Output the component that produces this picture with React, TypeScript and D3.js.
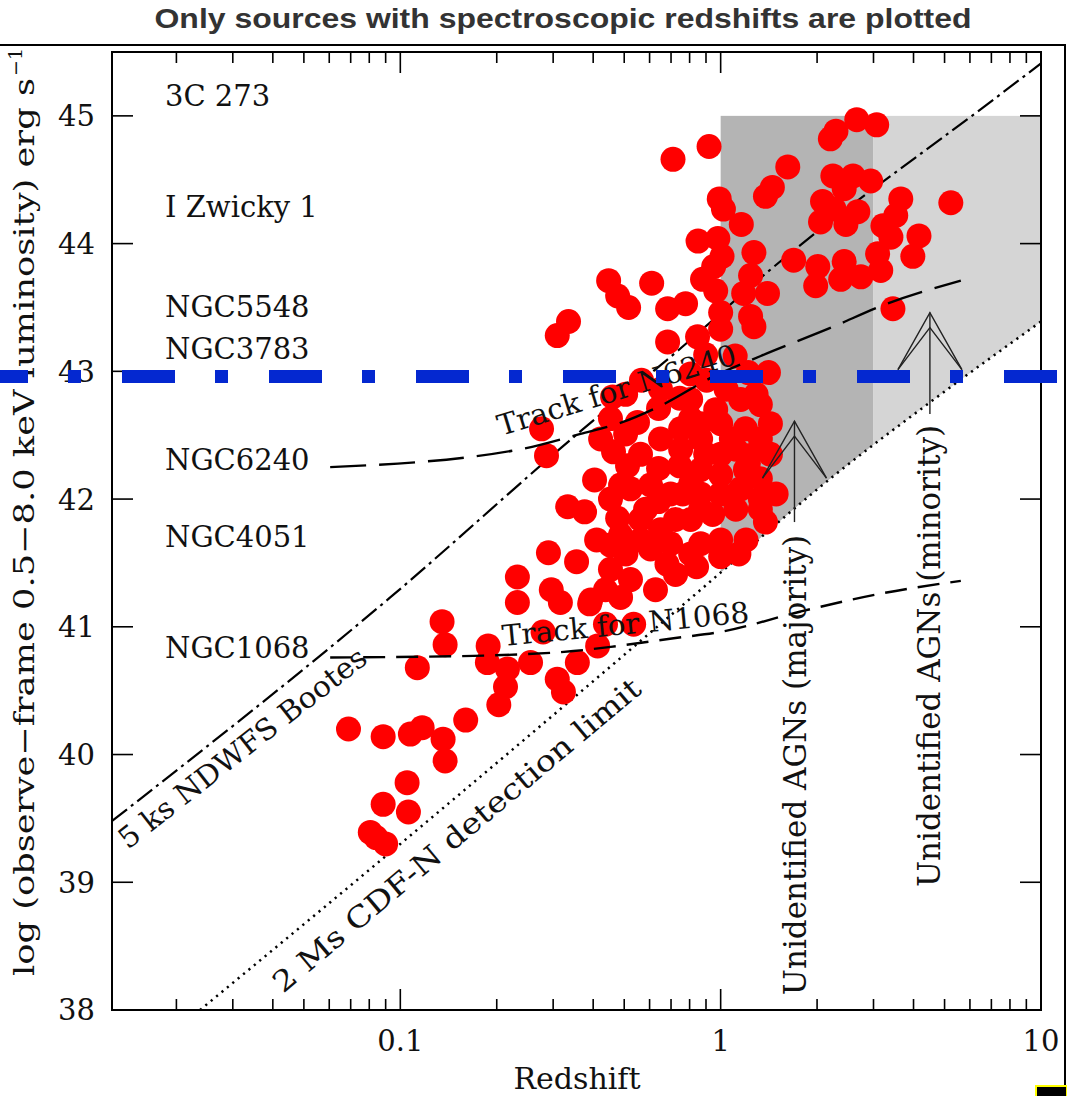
import React from 'react';
import * as d3 from 'd3';

const TITLE = 'Only sources with spectroscopic redshifts are plotted';
const X_TITLE = 'Redshift';
const Y_TITLE = 'log (observe\u2212frame 0.5\u22128.0 keV luminosity) erg s';
const Y_TITLE_SUP = '\u22121';

const xMajorTicks = [0.1, 1, 10];
const xTickLabels = ['0.1', '1', '10'];
const yTicks = [38, 39, 40, 41, 42, 43, 44, 45];

// Local AGN reference labels (log L)
const localNames = ['3C 273', 'I Zwicky 1', 'NGC5548', 'NGC3783', 'NGC6240', 'NGC4051', 'NGC1068'];
const localL = [45.16, 44.29, 43.51, 43.18, 42.31, 41.71, 40.84];

// Sources: redshift / log Lx
const brightZ = [0.71, 0.92, 2.66, 3.07, 2.29, 2.2, 1.62, 1.45, 1.38, 2.24, 2.59, 2.94, 2.43, 0.99, 1.02, 1.16, 2.08, 2.26, 2.68, 2.05, 2.46, 3.65, 3.52, 3.21, 3.4, 5.23, 4.16, 3.98, 0.85, 0.98, 1.01, 1.27, 1.69, 2.01, 2.43, 3.09, 3.16, 2.74, 1.98, 2.37];
const brightL = [44.66, 44.76, 44.97, 44.93, 44.88, 44.82, 44.6, 44.44, 44.37, 44.53, 44.53, 44.49, 44.43, 44.35, 44.27, 44.15, 44.33, 44.27, 44.25, 44.17, 44.15, 44.35, 44.22, 44.14, 44.05, 44.32, 44.06, 43.9, 44.02, 44.04, 43.9, 43.93, 43.87, 43.82, 43.86, 43.92, 43.79, 43.74, 43.67, 43.72];

const midZ = [0.447, 0.477, 0.516, 0.609, 0.335, 0.309, 0.683, 0.777, 0.878, 0.951, 0.965, 1.24, 1.4, 1.18, 1.0, 1.24, 1.27, 0.683, 0.847, 3.45, 1.11, 1.0, 0.898, 0.806];
const midL = [43.71, 43.59, 43.5, 43.69, 43.39, 43.28, 43.49, 43.53, 43.72, 43.82, 43.63, 43.75, 43.61, 43.61, 43.46, 43.43, 43.35, 43.23, 43.27, 43.49, 43.12, 43.33, 43.13, 42.98];

const coreZ = [0.566, 0.64, 0.453, 0.55, 0.276, 0.286, 0.745, 0.904, 1.22, 1.41, 1.43, 1.22, 1.49, 1.38, 0.463, 0.404, 0.512, 0.64, 0.745, 0.333, 0.376, 0.477, 0.41, 0.64, 0.761, 0.29, 0.355, 0.232, 0.296, 0.232, 0.39, 0.626, 0.841, 1.0, 1.22, 1.08,
  0.505, 0.806, 0.965, 0.866, 0.649, 0.866, 1.0, 1.155, 1.33, 0.866, 0.562, 0.649, 0.806, 0.944, 1.115, 1.0, 0.866, 0.604, 0.506, 1.2, 0.523, 0.437, 0.723, 1.155, 1.0, 1.195, 0.75, 0.649, 1.04, 0.523, 0.453, 0.75, 1.0, 1.33, 1.33];
const coreL = [42.93, 42.71, 42.63, 42.6, 42.55, 42.34, 42.79, 42.93, 42.99, 42.99, 42.59, 42.34, 42.04, 41.82, 42.37, 42.15, 42.26, 42.24, 42.26, 41.94, 41.9, 41.85, 41.68, 41.98, 42.04, 41.58, 41.51, 41.39, 41.29, 41.19, 41.18, 41.29, 41.47, 41.55, 42.28, 42.47,
  42.82, 42.63, 42.7, 42.47, 42.47, 42.23, 42.19, 42.08, 42.16, 42.04, 41.84, 41.76, 41.84, 41.88, 41.92, 41.68, 41.65, 41.61, 41.57, 41.68, 41.37, 41.29, 41.41, 42.78, 42.59, 42.55, 42.55, 42.86, 42.86, 42.08, 42.0, 42.39, 42.35, 42.47, 42.74];

const denseZ = [0.46, 0.422, 0.562, 0.806, 1.0, 1.195, 1.43, 0.562, 0.698, 0.487, 0.68, 1.14, 0.806, 0.604, 0.487, 0.723, 1.29, 1.33, 0.453,
  0.505, 0.898, 1.115, 0.698, 0.866, 0.583, 1.33, 0.453, 0.866, 0.806];
const denseL = [42.8, 42.47, 42.35, 42.12, 42.04, 42.23, 42.35, 41.68, 41.65, 41.72, 41.49, 41.57, 42.78, 42.11, 42.11, 41.84, 42.82, 42.0, 41.45,
  42.51, 42.35, 42.39, 42.04, 41.92, 41.92, 41.92, 41.64, 42.59, 41.57];

const faintZ = [0.135, 0.138, 0.113, 0.188, 0.187, 0.216, 0.255, 0.213, 0.203, 0.279, 0.309, 0.323, 0.357, 0.413, 0.535, 0.316, 0.393, 0.487, 0.437, 0.0689, 0.0884, 0.1075, 0.117, 0.136, 0.138, 0.16, 0.105, 0.0884, 0.106, 0.0806, 0.084, 0.09];
const faintL = [41.04, 40.86, 40.68, 40.85, 40.72, 40.67, 40.72, 40.53, 40.39, 40.96, 40.59, 40.49, 40.72, 40.85, 41.02, 41.19, 41.21, 41.23, 41.02, 40.2, 40.14, 40.16, 40.21, 40.12, 39.95, 40.27, 39.78, 39.61, 39.55, 39.39, 39.35, 39.3];

// Flux-limit curves
const ndwfsZ = [0.0126, 0.093, 0.357, 0.766, 1.36, 7.13, 10];
const ndwfsL = [39.48, 41.23, 42.51, 43.2, 43.75, 45.13, 45.41];
const cdfnZ = [0.0237, 0.0848, 0.866, 2.25, 4.63, 10];
const cdfnL = [38.0, 39.15, 41.29, 42.18, 42.78, 43.39];

// Tracks of local templates
const track6240Z = [0.0604, 0.237, 0.365, 0.491, 0.649, 0.951, 1.334, 2.25, 3.16, 5.62];
const track6240L = [42.25, 42.39, 42.51, 42.6, 42.73, 42.96, 43.12, 43.35, 43.51, 43.71];
const track1068Z = [0.0604, 0.1507, 0.347, 0.477, 0.713, 1.0, 1.778, 3.16, 5.62];
const track1068L = [40.76, 40.77, 40.81, 40.85, 40.91, 40.96, 41.12, 41.26, 41.36];

// Unidentified AGN regions
const regionZ = [1, 3, 10];
const regionTopL = 45;
const arrowZ = [1.7, 4.5];
const arrowTipL = [42.61, 43.46];
const arrowBaseL = [41.82, 42.665];
const arrowText = ['Unidentified AGNs (majority)', 'Unidentified AGNs (minority)'];

const blueLevel = 42.96;

const SERIF = "'DejaVu Serif', serif";

export default function App() {
  const x = d3.scaleLog().domain([Math.pow(10, -1.9), 10]).range([112, 1041]);
  const y = d3.scaleLinear().domain([38, 45.5]).range([1010, 52]);
  const [xl, xr] = x.range();
  const [yb, yt] = y.range();

  const pts = (zs: number[], ls: number[]) => zs.map((z, i) => [x(z), y(ls[i])] as [number, number]);
  const line = d3.line().curve(d3.curveMonotoneX);
  const aboveArea = d3.area<[number, number]>().x(d => d[0]).y0(yt).y1(d => d[1]).curve(d3.curveMonotoneX);

  const allZ = [...brightZ, ...midZ, ...coreZ, ...denseZ, ...faintZ];
  const allL = [...brightL, ...midL, ...coreL, ...denseL, ...faintL];

  const minorTicks: number[] = [];
  [0.01, 0.1, 1].forEach(dec => {
    for (let k = 2; k <= 9; k++) {
      const v = k * dec;
      if (v >= x.domain()[0] && v <= 10) minorTicks.push(v);
    }
  });

  const labelStyle = { fontFamily: SERIF, fontSize: 29, fill: '#111' } as const;

  return (
    <svg width={1067} height={1096} style={{ position: 'absolute', left: 0, top: 0, background: '#fff' }}>
      <defs>
        <clipPath id="aboveLimit">
          <path d={aboveArea(pts(cdfnZ, cdfnL)) || ''} />
        </clipPath>
      </defs>
      <rect x={0} y={0} width={1067} height={1096} fill="#fff" />

      {/* title */}
      <text x={563} y={28} textAnchor="middle" fontFamily="'Liberation Sans', Arial, sans-serif" fontWeight="bold"
        fontSize={27} fill="#333" textLength={817} lengthAdjust="spacingAndGlyphs">{TITLE}</text>
      <line x1={0} x2={1066} y1={45} y2={45} stroke="#000" strokeWidth={2} />
      <line x1={1065} x2={1065} y1={45} y2={1086} stroke="#000" strokeWidth={2} />

      {/* shaded regions */}
      <g clipPath="url(#aboveLimit)">
        <rect x={x(regionZ[0])} y={y(regionTopL)} width={x(regionZ[1]) - x(regionZ[0])} height={yb - y(regionTopL)} fill="#b4b4b4" />
        <rect x={x(regionZ[1])} y={y(regionTopL)} width={x(regionZ[2]) - x(regionZ[1])} height={yb - y(regionTopL)} fill="#d5d5d5" />
      </g>

      {/* limit curves */}
      <path d={line(pts(cdfnZ, cdfnL)) || ''} fill="none" stroke="#000" strokeWidth={2.5} strokeDasharray="2.2 4.8" />
      <path d={line(pts(ndwfsZ, ndwfsL)) || ''} fill="none" stroke="#000" strokeWidth={2.2} strokeDasharray="19 5 3 5" />

      {/* sources */}
      <g fill="#ff0000">
        {allZ.map((z, i) => (
          <circle key={i} cx={x(z)} cy={y(allL[i])} r={12.5} />
        ))}
      </g>

      {/* tracks */}
      <path d={line(pts(track6240Z, track6240L)) || ''} fill="none" stroke="#000" strokeWidth={2.4} strokeDasharray="36 13" />
      <path d={line(pts(track1068Z, track1068L)) || ''} fill="none" stroke="#000" strokeWidth={2.4} strokeDasharray="22 11" />

      {/* arrows */}
      {arrowZ.map((z, i) => {
        const ax = x(z);
        const tip = y(arrowTipL[i]);
        const base = y(arrowBaseL[i]);
        const hw = 32, dep = 57, inner = 15;
        return (
          <g key={i} stroke="#222" strokeWidth={1.4} fill="none">
            <line x1={ax} x2={ax} y1={base} y2={tip} />
            <polyline points={`${ax - hw},${tip + dep} ${ax},${tip} ${ax + hw},${tip + dep}`} />
            <polyline points={`${ax - hw},${tip + dep} ${ax},${tip + inner} ${ax + hw},${tip + dep}`} />
          </g>
        );
      })}
      <text transform="translate(806,765) rotate(-90)" textAnchor="middle" {...labelStyle} fontSize={31}>{arrowText[0]}</text>
      <text transform="translate(940,656) rotate(-90)" textAnchor="middle" {...labelStyle} fontSize={31}>{arrowText[1]}</text>

      {/* curve labels */}
      <text transform="translate(501,436) rotate(-17)" {...labelStyle} textLength={248} lengthAdjust="spacingAndGlyphs">Track for N6240</text>
      <text transform="translate(503,646) rotate(-5.5)" {...labelStyle} textLength={248} lengthAdjust="spacingAndGlyphs">Track for N1068</text>
      <text transform="translate(128,850) rotate(-38)" {...labelStyle} textLength={306} lengthAdjust="spacingAndGlyphs">5 ks NDWFS Bootes</text>
      <text transform="translate(283,994) rotate(-40)" {...labelStyle} textLength={470} lengthAdjust="spacingAndGlyphs">2 Ms CDF-N detection limit</text>

      {/* local AGN labels */}
      {localNames.map((n, i) => (
        <text key={n} x={165} y={y(localL[i])} dy="0.36em" {...labelStyle}>{n}</text>
      ))}

      {/* frame */}
      <rect x={xl} y={yt} width={xr - xl} height={yb - yt} fill="none" stroke="#000" strokeWidth={2} />
      <g stroke="#000" strokeWidth={1.6}>
        {xMajorTicks.map(v => (
          <g key={'M' + v}>
            <line x1={x(v)} x2={x(v)} y1={yb} y2={yb - 21} />
            <line x1={x(v)} x2={x(v)} y1={yt} y2={yt + 21} />
          </g>
        ))}
        {minorTicks.map(v => (
          <g key={'m' + v}>
            <line x1={x(v)} x2={x(v)} y1={yb} y2={yb - 11} />
            <line x1={x(v)} x2={x(v)} y1={yt} y2={yt + 11} />
          </g>
        ))}
        {yTicks.map(v => (
          <g key={'y' + v}>
            <line x1={xl} x2={xl + 21} y1={y(v)} y2={y(v)} />
            <line x1={xr} x2={xr - 21} y1={y(v)} y2={y(v)} />
          </g>
        ))}
      </g>
      {yTicks.map(v => (
        <text key={'yl' + v} x={95} y={y(v)} dy="0.36em" textAnchor="end" {...labelStyle}>{v}</text>
      ))}
      {xMajorTicks.map((v, i) => (
        <text key={'xl' + v} x={x(v)} y={1051} textAnchor="middle" {...labelStyle}>{xTickLabels[i]}</text>
      ))}
      <text x={577} y={1089} textAnchor="middle" {...labelStyle} fontSize={30}>{X_TITLE}</text>
      <text transform="rotate(-90)" x={-976} y={34} {...labelStyle} fontSize={28} textLength={898} lengthAdjust="spacingAndGlyphs">{Y_TITLE}</text>
      <text transform="rotate(-90)" x={-76} y={22} {...labelStyle} fontSize={19}>{Y_TITLE_SUP}</text>

      {/* threshold line */}
      <line x1={0} x2={1067} y1={y(blueLevel)} y2={y(blueLevel)} stroke="#0428d0" strokeWidth={13}
        strokeDasharray="53 40 13 41" strokeDashoffset={25} />

      <rect x={1036} y={1086} width={31} height={11} fill="#000" stroke="#ffff00" strokeWidth={2} />
    </svg>
  );
}
